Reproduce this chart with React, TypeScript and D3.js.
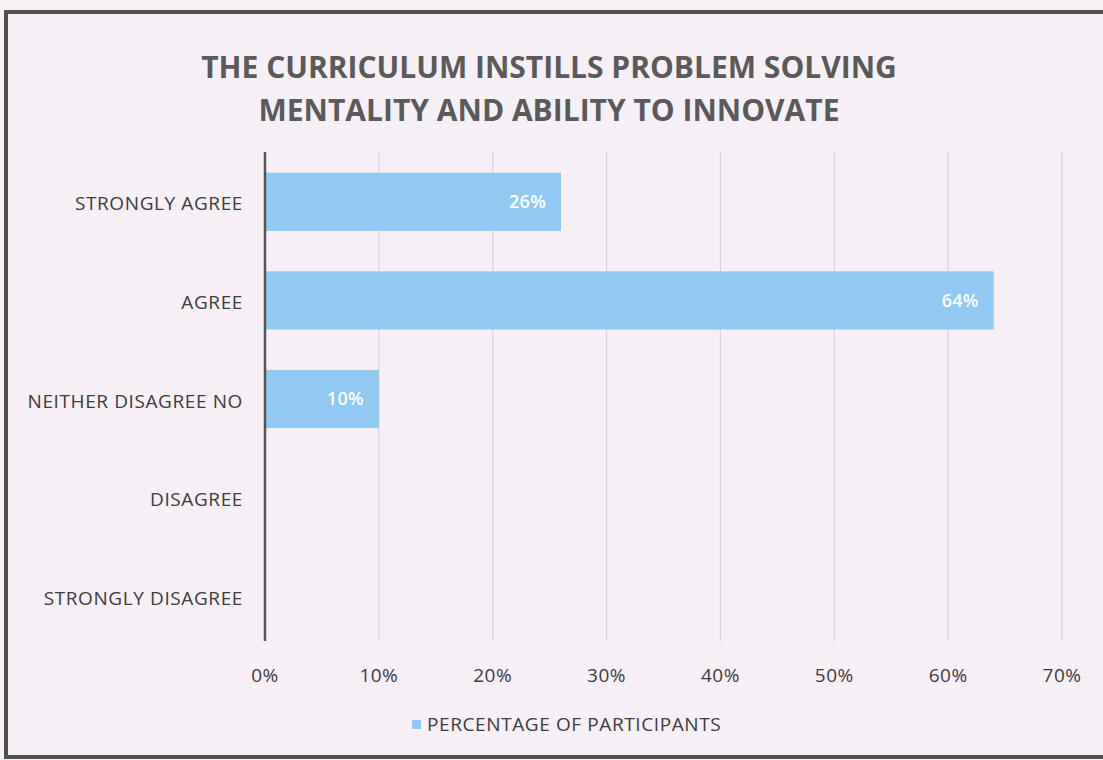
import React from "react";
import * as d3 from "d3";

const categories = ["STRONGLY AGREE", "AGREE", "NEITHER DISAGREE NO", "DISAGREE", "STRONGLY DISAGREE"];
const values = [0.26, 0.64, 0.10, 0, 0];
const ticks = [0, 0.1, 0.2, 0.3, 0.4, 0.5, 0.6, 0.7];
const titleLines = ["THE CURRICULUM INSTILLS PROBLEM SOLVING", "MENTALITY AND ABILITY TO INNOVATE"];
const seriesName = "PERCENTAGE OF PARTICIPANTS";

const W = 1103, H = 760;
const FONT = "'Open Sans', Lato, sans-serif";

export default function App() {
  const x = d3.scaleLinear().domain([0, 0.7]).range([265, 1062]);
  const y = d3.scaleBand<string>().domain(categories).range([153, 645]).paddingInner(0.41).paddingOuter(0.2);
  const fmt = d3.format(".0%");
  return (
    <div style={{ position: "absolute", left: 0, top: 0 }}>
      <svg width={W} height={H} style={{ display: "block", background: "#f7f1f6" }}>
        <rect x={6} y={12} width={1100} height={745} fill="#f6eff6" stroke="#505050" strokeWidth={4} />
        {titleLines.map((t, i) => (
          <text key={i} x={549} y={78 + i * 43} textAnchor="middle" fontFamily={FONT} fontWeight="bold" fontSize={30} fill="#5a5a5a">{t}</text>
        ))}
        {ticks.slice(1).map((t) => (
          <line key={t} x1={x(t)} x2={x(t)} y1={152} y2={641} stroke="#d9d2e2" strokeWidth={1.2} />
        ))}
        {categories.map((c, i) => (
          <rect key={c} x={x(0)} y={y(c)!} width={x(values[i]) - x(0)} height={y.bandwidth()} fill="#90c9f1" />
        ))}
        {categories.map((c, i) => values[i] > 0 ? (
          <text key={c} x={x(values[i]) - 15} y={y(c)! + y.bandwidth() / 2} dy="0.35em" textAnchor="end" fontFamily={FONT} fontWeight={600} fontSize={18} fill="#ffffff" letterSpacing={0.3}>{fmt(values[i])}</text>
        ) : null)}
        <line x1={x(0)} x2={x(0)} y1={152} y2={641} stroke="#555" strokeWidth={2.5} />
        {categories.map((c) => (
          <text key={c} x={243} y={y(c)! + y.bandwidth() / 2 + 2} dy="0.35em" textAnchor="end" fontFamily={FONT} fontSize={19} fill="#3c3c3c" letterSpacing={0.6}>{c}</text>
        ))}
        {ticks.map((t) => (
          <text key={t} x={x(t)} y={675} dy="0.35em" textAnchor="middle" fontFamily={FONT} fontSize={19} fill="#3c3c3c" letterSpacing={0.5}>{fmt(t)}</text>
        ))}
        <rect x={412} y={720} width={9} height={9} fill="#90c9f1" />
        <text x={427} y={724} dy="0.35em" fontFamily={FONT} fontSize={19} fill="#3c3c3c" letterSpacing={0.6}>{seriesName}</text>
      </svg>
    </div>
  );
}
